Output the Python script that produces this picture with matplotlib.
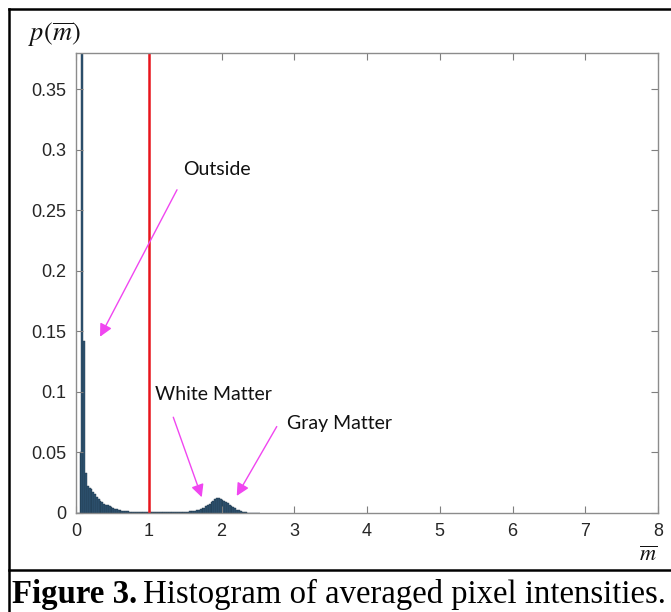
import numpy as np
import matplotlib
matplotlib.use("Agg")
import matplotlib.pyplot as plt
from matplotlib.lines import Line2D

plt.rcParams['mathtext.fontset'] = 'stix'

# histogram of averaged pixel intensities, bins of width 0.025 starting at 0
bin_width = 0.025
counts = [
    0.0, 0.0, 0.050, 0.62, 0.142, 0.033, 0.022, 0.021, 0.0195, 0.0175,
    0.0155, 0.0135, 0.0115, 0.0100, 0.0088, 0.0078, 0.0070, 0.0062, 0.0055, 0.0048,
    0.0042, 0.0036, 0.0031, 0.0027, 0.0023, 0.0020, 0.0017, 0.0015, 0.0013, 0.0012,
    0.0011, 0.0010, 0.0010, 0.0009, 0.0010, 0.0009, 0.0009, 0.0009, 0.0008, 0.0009,
    0.0008, 0.0008, 0.0009, 0.0008, 0.0008, 0.0008, 0.0009, 0.0008, 0.0008, 0.0009,
    0.0008, 0.0009, 0.0009, 0.0008, 0.0009, 0.0009, 0.0009, 0.0010, 0.0010, 0.0010,
    0.0011, 0.0012, 0.0013, 0.0015, 0.0017, 0.0020, 0.0023, 0.0027, 0.0032, 0.0038,
    0.0045, 0.0054, 0.0064, 0.0076, 0.0088, 0.0100, 0.0112, 0.0121, 0.0124, 0.0118,
    0.0110, 0.0100, 0.0090, 0.0080, 0.0069, 0.0058, 0.0047, 0.0037, 0.0028, 0.0021,
    0.0015, 0.0010, 0.0007, 0.0005, 0.0003, 0.0002, 0.0002, 0.0001, 0.0001, 0.0001,
    0.0001,
]
threshold = 1.0

x_ticks = [0, 1, 2, 3, 4, 5, 6, 7, 8]
y_ticks = [0, 0.05, 0.1, 0.15, 0.2, 0.25, 0.3, 0.35]
y_tick_labels = ["0", "0.05", "0.1", "0.15", "0.2", "0.25", "0.3", "0.35"]

# (text, text xy, arrow tail xy, arrow tip xy) in data units
notes = [
    ("Outside", (1.47, 0.284), (1.388, 0.267), (0.33, 0.1456)),
    ("White Matter", (1.08, 0.098), (1.337, 0.0791), (1.728, 0.0130)),
    ("Gray Matter", (2.90, 0.074), (2.759, 0.0714), (2.209, 0.0141)),
]

fig = plt.figure(figsize=(6.71, 6.12), dpi=100)
ax = fig.add_axes([0.1133, 0.1618, 0.8674, 0.7516])

edges = np.arange(len(counts)) * bin_width
ax.bar(edges, counts, width=bin_width, align='edge', color='#2f5674',
       edgecolor='#1d3447', linewidth=0.3)
ax.axvline(threshold, color='#e8141c', linewidth=1.8)

ax.set_xlim(0, 8)
ax.set_ylim(0, 0.38)
ax.set_xticks(x_ticks)
ax.set_yticks(y_ticks)
ax.set_yticklabels(y_tick_labels)
ax.tick_params(direction='in', length=5, width=0.8, color='#7f7f7f',
               labelsize=13, labelcolor='#262626', top=True, right=True, pad=7)
for lab in ax.get_xticklabels() + ax.get_yticklabels():
    lab.set_family('Liberation Sans')
for s in ax.spines.values():
    s.set_color('#8c8c8c')
    s.set_linewidth(1.0)

for label, txy, tail, tip in notes:
    ax.annotate("", xy=tip, xytext=tail,
                arrowprops=dict(arrowstyle='-|>', color='#f046f0', lw=1.0,
                                mutation_scale=19, shrinkA=0, shrinkB=0))
    ax.text(txy[0], txy[1], label, family='Lato', fontsize=14,
            color='#111111', ha='left', va='center')

# axis labels sit outside the plot box
fig.text(0.042, 0.933, r'$p(\overline{m})$', fontsize=19, color='#111111')
fig.text(0.953, 0.083, r'$\overline{m}$', fontsize=16, color='#111111')

# framed caption: bold figure number, then the plain sentence right after it
cap_y = 0.014
head = fig.text(0.018, cap_y, 'Figure 3.', fontsize=23.6, weight='bold',
                family='Liberation Serif', color='black')
fig.canvas.draw()
bb = head.get_window_extent(renderer=fig.canvas.get_renderer())
x_next = (bb.x1 + 6) / fig.bbox.width
fig.text(x_next, cap_y, 'Histogram of averaged pixel intensities.',
         fontsize=23.6, family='Liberation Serif', color='black')

lw = 1.8
fig.add_artist(Line2D([0.0134, 1.0], [0.985, 0.985], color='black', lw=lw))
fig.add_artist(Line2D([0.0134, 0.0134], [0.0, 0.985], color='black', lw=lw))
fig.add_artist(Line2D([0.0134, 1.0], [0.068, 0.068], color='black', lw=lw))

fig.savefig("out.png", dpi=100)
